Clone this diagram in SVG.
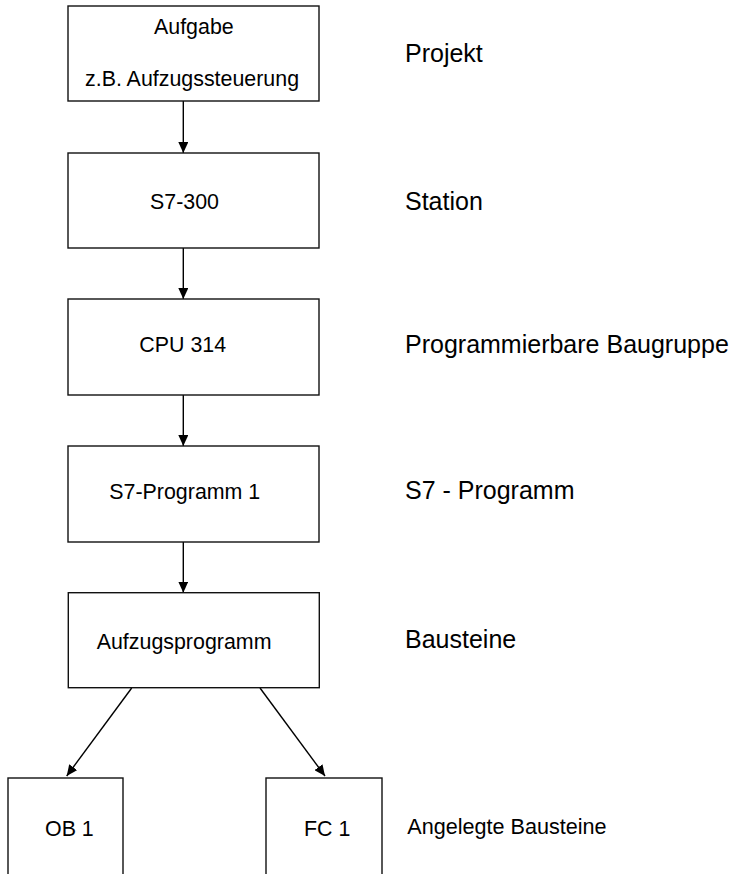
<svg xmlns="http://www.w3.org/2000/svg" width="737" height="874" viewBox="0 0 737 874">
<style>
.box{fill:#fff;stroke:#111;stroke-width:1.4}
.t{font-family:"Liberation Sans",Arial,sans-serif;font-size:21.4px;fill:#000}
.lbl{font-family:"Liberation Sans",Arial,sans-serif;font-size:25px;fill:#000}
.sm{font-family:"Liberation Sans",Arial,sans-serif;font-size:21.6px;fill:#000}
.c{stroke:#000;stroke-width:1.4;fill:none;marker-end:url(#ah)}
</style>
<defs>
<marker id="ah" viewBox="0 0 11 10" refX="11" refY="5" markerWidth="11" markerHeight="10" markerUnits="userSpaceOnUse" orient="auto">
<path d="M0,0 L11,5 L0,10 Z" fill="#000"/>
</marker>
</defs>
<rect width="737" height="874" fill="#fff"/>
<g id="connectors">
<line class="c" x1="183.3" y1="101" x2="183.3" y2="153"/>
<line class="c" x1="183.3" y1="248" x2="183.3" y2="299"/>
<line class="c" x1="183.3" y1="395" x2="183.3" y2="446"/>
<line class="c" x1="183.3" y1="542" x2="183.3" y2="592.7"/>
<line class="c" x1="131.7" y1="688" x2="66.7" y2="776"/>
<line class="c" x1="260" y1="688" x2="325" y2="776"/>
</g>
<g id="n-aufgabe">
<rect class="box" x="68" y="6" width="251" height="95"/>
<text class="t" x="154" y="34">Aufgabe</text>
<text class="t" x="85" y="86">z.B. Aufzugssteuerung</text>
</g>
<g id="n-s7300">
<rect class="box" x="68" y="153" width="251" height="95"/>
<text class="t" x="150" y="209">S7-300</text>
</g>
<g id="n-cpu">
<rect class="box" x="68" y="299" width="251" height="96"/>
<text class="t" x="139.3" y="351.7">CPU 314</text>
</g>
<g id="n-s7prog">
<rect class="box" x="68" y="446" width="251" height="96"/>
<text class="t" x="109.3" y="499.3">S7-Programm 1</text>
</g>
<g id="n-aufzug">
<rect class="box" x="68.3" y="592.7" width="251" height="95"/>
<text class="t" x="96.7" y="649">Aufzugsprogramm</text>
</g>
<g id="n-ob1">
<rect class="box" x="8" y="778" width="115" height="110"/>
<text class="t" x="45" y="836">OB 1</text>
</g>
<g id="n-fc1">
<rect class="box" x="266" y="778" width="116" height="110"/>
<text class="t" x="304" y="836">FC 1</text>
</g>
<g id="labels">
<text class="lbl" x="405" y="62">Projekt</text>
<text class="lbl" x="405" y="210">Station</text>
<text class="lbl" x="405" y="353.3">Programmierbare Baugruppe</text>
<text class="lbl" x="405" y="499">S7 - Programm</text>
<text class="lbl" x="405" y="648.3">Bausteine</text>
<text class="sm" x="407.3" y="834">Angelegte Bausteine</text>
</g>
</svg>
